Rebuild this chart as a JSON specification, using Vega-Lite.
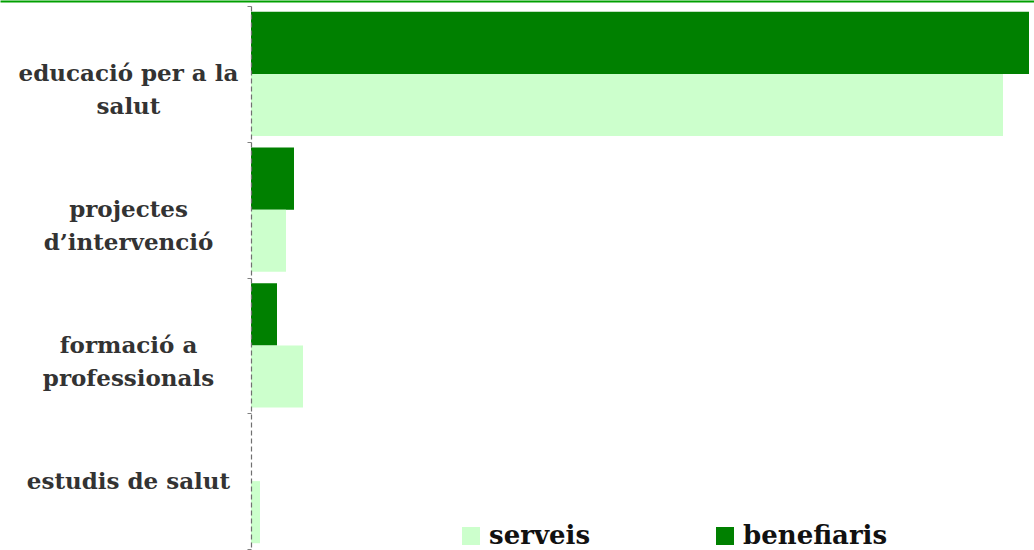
{
  "$schema": "https://vega.github.io/schema/vega-lite/v6.json",
  "width": 1034,
  "height": 543,
  "autosize": "none",
  "padding": {"top": 6, "left": 0, "right": 0, "bottom": 1},
  "background": "white",
  "config": {"view": {"stroke": null}},
  "data": {
    "values": [
      {"activitat": "educació per a la salut", "serie": "benefiaris", "valor": 778},
      {"activitat": "educació per a la salut", "serie": "serveis", "valor": 752},
      {"activitat": "projectes d’intervenció", "serie": "benefiaris", "valor": 43},
      {"activitat": "projectes d’intervenció", "serie": "serveis", "valor": 35},
      {"activitat": "formació a professionals", "serie": "benefiaris", "valor": 26},
      {"activitat": "formació a professionals", "serie": "serveis", "valor": 52},
      {"activitat": "estudis de salut", "serie": "benefiaris", "valor": 0},
      {"activitat": "estudis de salut", "serie": "serveis", "valor": 9}
    ]
  },
  "mark": {"type": "bar", "strokeWidth": 0},
  "encoding": {
    "y": {
      "field": "activitat",
      "type": "nominal",
      "sort": ["educació per a la salut", "projectes d’intervenció", "formació a professionals", "estudis de salut"],
      "scale": {"paddingInner": 0, "paddingOuter": 0},
      "axis": {
        "title": null,
        "offset": -251,
        "tickBand": "extent",
        "zindex": 1,
        "domainColor": "#707070",
        "domainDash": [5, 3],
        "domainWidth": 1.2,
        "tickColor": "#808080",
        "tickSize": 4,
        "labelAlign": "center",
        "labelBaseline": "middle",
        "labelPadding": 119,
        "labelLimit": 400,
        "labelFont": "DejaVu Serif",
        "labelFontWeight": "bold",
        "labelFontSize": 23,
        "labelColor": "#333333",
        "labelLineHeight": 33,
        "labelExpr": "datum.label == 'educació per a la salut' ? ['educació per a la', 'salut'] : datum.label == 'projectes d’intervenció' ? ['projectes', 'd’intervenció'] : datum.label == 'formació a professionals' ? ['formació a', 'professionals'] : datum.label"
      }
    },
    "yOffset": {
      "field": "serie",
      "type": "nominal",
      "sort": ["benefiaris", "serveis"],
      "scale": {"paddingInner": 0, "paddingOuter": 0.093}
    },
    "x": {
      "field": "valor",
      "type": "quantitative",
      "scale": {"domain": [-251, 783], "nice": false, "zero": false},
      "axis": {
        "orient": "top",
        "title": null,
        "labels": false,
        "ticks": false,
        "grid": false,
        "domainColor": "#00a000",
        "domainWidth": 2,
        "offset": 5
      }
    },
    "color": {
      "field": "serie",
      "type": "nominal",
      "scale": {"domain": ["serveis", "benefiaris"], "range": ["#CCFFCC", "#008000"]},
      "legend": {
        "title": null,
        "orient": "none",
        "direction": "horizontal",
        "legendX": 458,
        "legendY": 517,
        "symbolType": "square",
        "symbolSize": 324,
        "symbolStrokeWidth": 0,
        "labelOffset": 5,
        "columnPadding": 121,
        "labelFont": "DejaVu Serif",
        "labelFontWeight": "bold",
        "labelFontSize": 26,
        "labelColor": "#111111"
      }
    }
  }
}
